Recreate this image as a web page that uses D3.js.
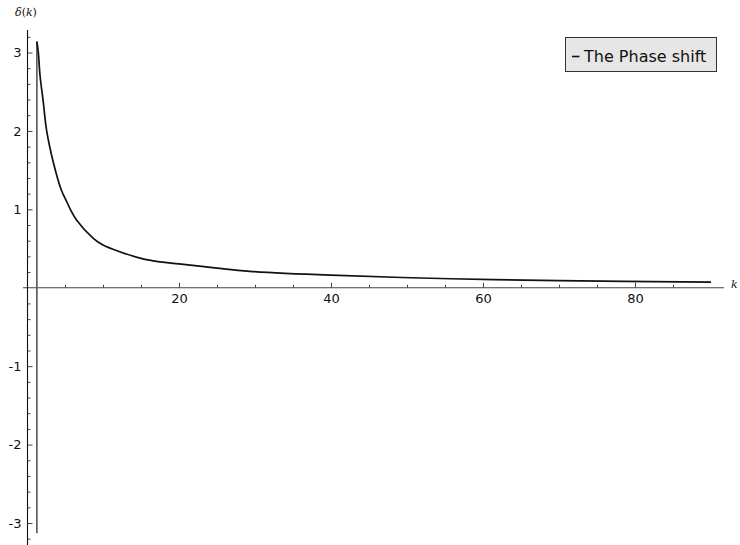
<!DOCTYPE html>
<html>
<head>
<meta charset="utf-8">
<script src="https://cdn.jsdelivr.net/npm/d3@7"></script>
<style>
  html, body { margin: 0; padding: 0; background: #fff; }
  svg { display: block; }
  .tick text { font-family: "DejaVu Sans", sans-serif; font-size: 13px; fill: #111; }
</style>
</head>
<body>
<script>
// ---- data ----
const kValues     = [1.3, 1.49, 1.71, 2.14, 2.59, 3.46, 4.5, 5.22, 5.7, 6.54, 8.72, 10, 12.2, 15, 17.5, 20, 25, 29.3, 40, 55.7, 70, 90];
const deltaValues = [3.14, 3.0, 2.71, 2.37, 2.0, 1.6, 1.25, 1.1, 1.0, 0.86, 0.63, 0.545, 0.46, 0.375, 0.33, 0.305, 0.25, 0.21, 0.16, 0.115, 0.09, 0.071];
const jumpK = 1.3;
const jumpValues = [-3.13, 3.14];
const xMajorTicks = [20, 40, 60, 80];
const xMinorTicks = [5, 10, 15, 25, 30, 35, 45, 50, 55, 65, 70, 75, 85];
const yMajorTicks = [-3, -2, -1, 1, 2, 3];
const yMinorTicks = [-3.2, -2.8, -2.6, -2.4, -2.2, -1.8, -1.6, -1.4, -1.2, -0.8, -0.6, -0.4, -0.2,
                     0.2, 0.4, 0.6, 0.8, 1.2, 1.4, 1.6, 1.8, 2.2, 2.4, 2.6, 2.8, 3.2];
const xLabel = "k";
const legendLabel = "The Phase shift";

// ---- drawing ----
const W = 740, H = 545;
const svg = d3.select("body").append("svg").attr("width", W).attr("height", H);

const x = d3.scaleLinear().domain([0, 90]).range([27, 711]);
const y = d3.scaleLinear().domain([-3, 3]).range([523, 52.5]);
const fmt = d => String(d);

// axis lines
svg.append("line").attr("x1", 23).attr("x2", 724).attr("y1", y(0)).attr("y2", y(0))
  .attr("stroke", "#444").attr("stroke-width", 1.1);
svg.append("line").attr("x1", 27.5).attr("x2", 27.5).attr("y1", 30).attr("y2", 545)
  .attr("stroke", "#111").attr("stroke-width", 1.1);

// x ticks (pointing up, labels below)
const gx = svg.append("g").attr("transform", `translate(0,${y(0)})`)
  .call(d3.axisBottom(x).tickValues(xMajorTicks).tickSize(-5).tickPadding(6).tickFormat(fmt));
gx.select(".domain").remove();
gx.selectAll(".tick line").attr("stroke", "#444");
const gxm = svg.append("g").attr("transform", `translate(0,${y(0)})`)
  .call(d3.axisBottom(x).tickValues(xMinorTicks).tickSize(-3).tickFormat(""));
gxm.select(".domain").remove();
gxm.selectAll(".tick line").attr("stroke", "#444");

// y ticks (pointing right, labels left)
const gy = svg.append("g").attr("transform", `translate(27.5,0)`)
  .call(d3.axisLeft(y).tickValues(yMajorTicks).tickSize(-5).tickPadding(6).tickFormat(fmt));
gy.select(".domain").remove();
gy.selectAll(".tick line").attr("stroke", "#444");
const gym = svg.append("g").attr("transform", `translate(27.5,0)`)
  .call(d3.axisLeft(y).tickValues(yMinorTicks).tickSize(-3).tickFormat(""));
gym.select(".domain").remove();
gym.selectAll(".tick line").attr("stroke", "#444");

// axis labels
const yl = svg.append("text").attr("x", 15).attr("y", 16)
  .attr("font-family", "DejaVu Serif, serif").attr("font-size", 11).attr("fill", "#111");
yl.append("tspan").attr("font-style", "italic").text("δ");
yl.append("tspan").text("(");
yl.append("tspan").attr("font-style", "italic").text("k");
yl.append("tspan").text(")");
svg.append("text").attr("x", 731).attr("y", 288)
  .attr("font-family", "DejaVu Serif, serif").attr("font-style", "italic").attr("font-size", 11)
  .attr("fill", "#111").text(xLabel);

// jump segment
svg.append("path")
  .datum(jumpValues)
  .attr("d", d3.line().x(() => x(jumpK)).y(d => y(d)))
  .attr("fill", "none").attr("stroke", "#555").attr("stroke-width", 1.6);

// curve
const pts = kValues.map((k, i) => [k, deltaValues[i]]);
svg.append("path")
  .datum(pts)
  .attr("d", d3.line().x(d => x(d[0])).y(d => y(d[1])).curve(d3.curveCatmullRom.alpha(0.5)))
  .attr("fill", "none").attr("stroke", "#111").attr("stroke-width", 1.7);

// legend
const lg = svg.append("g");
lg.append("rect").attr("x", 565.5).attr("y", 37.5).attr("width", 151).attr("height", 34)
  .attr("fill", "#e6e6e6").attr("stroke", "#333").attr("stroke-width", 1);
lg.append("line").attr("x1", 572).attr("x2", 579.5).attr("y1", 56.5).attr("y2", 56.5)
  .attr("stroke", "#111").attr("stroke-width", 1.6);
lg.append("text").attr("x", 584).attr("y", 61.5)
  .attr("font-family", "DejaVu Sans, sans-serif").attr("font-size", 16).attr("fill", "#111")
  .text(legendLabel);
</script>
</body>
</html>
